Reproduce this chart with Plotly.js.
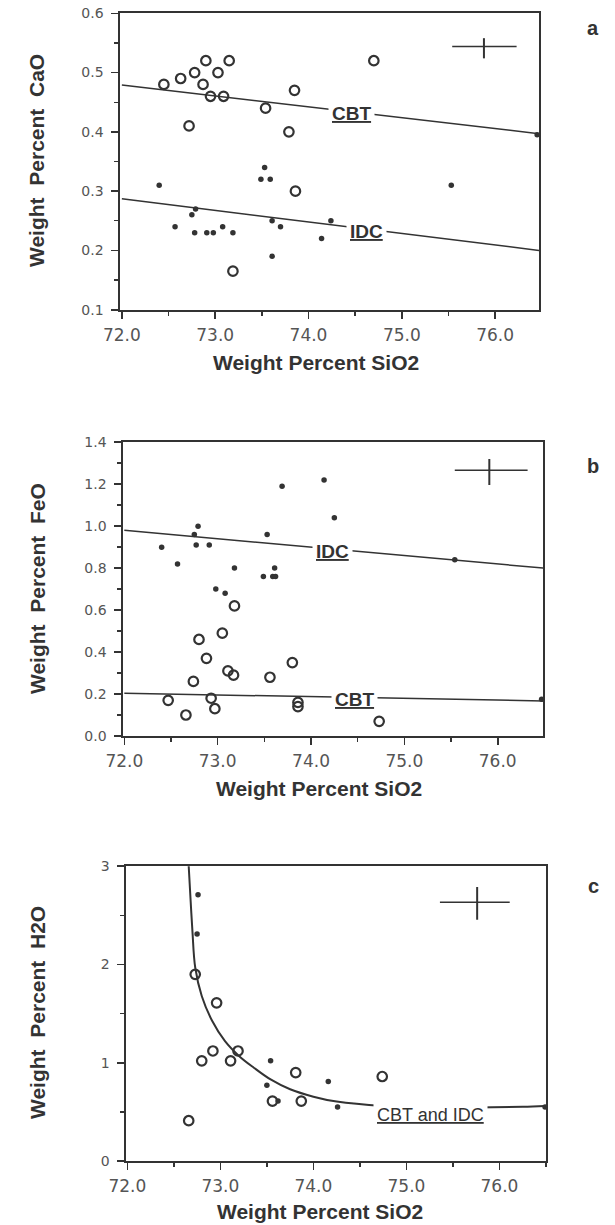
<!DOCTYPE html>
<html>
<head>
<meta charset="utf-8">
<script src="https://cdn.plot.ly/plotly-3.0.1.min.js"></script>
<style>html,body{margin:0;padding:0;background:#fff;}#chart{width:615px;height:1225px;}</style>
</head>
<body>
<div id="chart"></div>
<script>
// ---------- Data ----------
// Panel a: CaO vs SiO2
const caoCbtX = [72.45,72.63,72.78,72.87,72.90,73.03,73.15,72.95,73.09,72.72,73.54,73.85,73.79,73.86,74.70,73.19];
const caoCbtY = [0.48,0.49,0.50,0.48,0.52,0.50,0.52,0.46,0.46,0.41,0.44,0.47,0.40,0.30,0.52,0.165];
const caoIdcX = [72.40,72.57,72.75,72.79,72.78,72.91,72.98,73.08,73.19,73.53,73.49,73.59,73.61,73.70,73.61,74.24,74.14,75.53,76.45];
const caoIdcY = [0.31,0.24,0.26,0.27,0.23,0.23,0.23,0.24,0.23,0.34,0.32,0.32,0.25,0.24,0.19,0.25,0.22,0.31,0.395];
const caoCbtLineX = [72.0, 76.47];
const caoCbtLineY = [0.479, 0.397];
const caoIdcLineX = [72.0, 76.47];
const caoIdcLineY = [0.287, 0.200];
const caoErrH = {x:[75.54,76.23], y:[0.544,0.544]};
const caoErrV = {x:[75.88,75.88], y:[0.524,0.558]};

// Panel b: FeO vs SiO2
const feoIdcX = [72.40,72.57,72.75,72.79,72.77,72.91,72.98,73.08,73.18,73.49,73.53,73.61,73.59,73.62,73.69,74.14,74.25,75.54,76.47];
const feoIdcY = [0.90,0.82,0.96,1.00,0.91,0.91,0.70,0.68,0.80,0.76,0.96,0.80,0.76,0.76,1.19,1.22,1.04,0.84,0.175];
const feoCbtX = [73.18,73.05,72.80,72.88,72.74,73.11,73.17,73.56,73.80,72.47,72.66,72.93,72.97,73.86,73.86,74.73];
const feoCbtY = [0.62,0.49,0.46,0.37,0.26,0.31,0.29,0.28,0.35,0.17,0.10,0.18,0.13,0.16,0.14,0.07];
const feoIdcLineX = [72.0, 76.49];
const feoIdcLineY = [0.98, 0.80];
const feoCbtLineX = [72.0, 76.49];
const feoCbtLineY = [0.204, 0.167];
const feoErrH = {x:[75.54,76.32], y:[1.266,1.266]};
const feoErrV = {x:[75.91,75.91], y:[1.196,1.320]};

// Panel c: H2O vs SiO2
const h2oIdcX = [72.76,72.75,73.54,73.50,73.62,74.16,74.26,76.49];
const h2oIdcY = [2.71,2.31,1.02,0.77,0.61,0.81,0.55,0.55];
const h2oCbtX = [72.66,72.73,72.96,72.80,72.92,73.11,73.19,73.56,73.81,73.87,74.74];
const h2oCbtY = [0.41,1.90,1.61,1.02,1.12,1.02,1.12,0.61,0.90,0.61,0.86];
const h2oCurveX = [72.66,72.68,72.70,72.73,72.80,72.91,73.05,73.20,73.36,73.54,73.75,74.00,74.25,74.75,75.25,75.75,76.25,76.49];
const h2oCurveY = [3.00,2.66,2.34,1.97,1.68,1.43,1.22,1.07,0.95,0.83,0.73,0.655,0.605,0.56,0.545,0.545,0.552,0.56];
const h2oErrH = {x:[75.36,76.11], y:[2.633,2.633]};
const h2oErrV = {x:[75.76,75.76], y:[2.456,2.789]};

// ---------- Helpers ----------
const W = 615, H = 1225;
const ink = '#333333';
const px = v => v / W;
const py = v => 1 - v / H;

function openPts(x, y, xa, ya) {
  return {x, y, xaxis: xa, yaxis: ya, type: 'scatter', mode: 'markers', cliponaxis: false,
    marker: {symbol: 'circle-open', size: 9.5, color: ink, line: {width: 2.2, color: ink}}, hoverinfo: 'x+y'};
}
function dotPts(x, y, xa, ya) {
  return {x, y, xaxis: xa, yaxis: ya, type: 'scatter', mode: 'markers', cliponaxis: false,
    marker: {symbol: 'circle', size: 5.5, color: ink}, hoverinfo: 'x+y'};
}
function line(x, y, xa, ya, w, shape) {
  return {x, y, xaxis: xa, yaxis: ya, type: 'scatter', mode: 'lines',
    line: {color: ink, width: w || 1.5, shape: shape || 'linear', smoothing: 1}, hoverinfo: 'skip'};
}

function xAxis(l, r, range, anchor) {
  return {domain: [px(l), px(r)], range, anchor, showline: true, linecolor: ink, linewidth: 1.6,
    mirror: true, ticks: 'outside', ticklen: 7, tickwidth: 1.6, tickcolor: ink,
    tick0: 72, dtick: 1, tickformat: '.1f', showgrid: false, zeroline: false,
    tickfont: {family: 'DejaVu Sans', size: 17, color: '#555'}, ticklabelstandoff: 2, fixedrange: true};
}
function yAxis(t, b, range, anchor, dtick, fmt) {
  return {domain: [py(b), py(t)], range, anchor, showline: true, linecolor: ink, linewidth: 1.6,
    mirror: true, ticks: 'outside', ticklen: 7, tickwidth: 1.6, tickcolor: ink,
    tick0: 0, dtick, tickformat: fmt, showgrid: false, zeroline: false,
    tickfont: {family: 'DejaVu Sans', size: 14, color: '#555'}, ticklabelstandoff: 5, fixedrange: true};
}
// overlay axes that carry only the small intermediate ticks
function xMinor(base, over, anchor) {
  return {domain: base.domain, range: base.range, anchor, overlaying: over, side: 'bottom',
    showline: false, ticks: 'outside', ticklen: 5, tickwidth: 1.4, tickcolor: ink,
    tick0: 72, dtick: 0.5, showticklabels: false, showgrid: false, zeroline: false, fixedrange: true};
}
function yMinor(base, over, anchor, dtick) {
  return {domain: base.domain, range: base.range, anchor, overlaying: over, side: 'left',
    showline: false, ticks: 'outside', ticklen: 5, tickwidth: 1.4, tickcolor: ink,
    tick0: 0, dtick, showticklabels: false, showgrid: false, zeroline: false, fixedrange: true};
}

const traces = [
  line(caoCbtLineX, caoCbtLineY, 'x', 'y'),
  line(caoIdcLineX, caoIdcLineY, 'x', 'y'),
  line(caoErrH.x, caoErrH.y, 'x', 'y', 1.5),
  line(caoErrV.x, caoErrV.y, 'x', 'y', 2),
  openPts(caoCbtX, caoCbtY, 'x', 'y'),
  dotPts(caoIdcX, caoIdcY, 'x', 'y'),

  line(feoIdcLineX, feoIdcLineY, 'x2', 'y2'),
  line(feoCbtLineX, feoCbtLineY, 'x2', 'y2'),
  line(feoErrH.x, feoErrH.y, 'x2', 'y2', 1.5),
  line(feoErrV.x, feoErrV.y, 'x2', 'y2', 2),
  openPts(feoCbtX, feoCbtY, 'x2', 'y2'),
  dotPts(feoIdcX, feoIdcY, 'x2', 'y2'),

  line(h2oCurveX, h2oCurveY, 'x3', 'y3', 2, 'spline'),
  line(h2oErrH.x, h2oErrH.y, 'x3', 'y3', 1.5),
  line(h2oErrV.x, h2oErrV.y, 'x3', 'y3', 2),
  openPts(h2oCbtX, h2oCbtY, 'x3', 'y3'),
  dotPts(h2oIdcX, h2oIdcY, 'x3', 'y3'),

  // empty traces so the minor-tick overlay axes are drawn
  {x: [], y: [], xaxis: 'x4', yaxis: 'y4', type: 'scatter', mode: 'markers', hoverinfo: 'skip'},
  {x: [], y: [], xaxis: 'x5', yaxis: 'y5', type: 'scatter', mode: 'markers', hoverinfo: 'skip'},
  {x: [], y: [], xaxis: 'x6', yaxis: 'y6', type: 'scatter', mode: 'markers', hoverinfo: 'skip'}
];

const titleFont = {family: 'Liberation Sans, Arial, sans-serif', size: 21, color: ink, weight: 700};
function xTitle(text, cx, cy) {
  return {text, xref: 'paper', yref: 'paper', x: px(cx), y: py(cy), xanchor: 'center', yanchor: 'middle',
    showarrow: false, font: titleFont};
}
function yTitle(text, cx, cy) {
  return {text, xref: 'paper', yref: 'paper', x: px(cx), y: py(cy), xanchor: 'center', yanchor: 'middle',
    showarrow: false, textangle: -90, font: titleFont};
}
function letter(text, cx, cy) {
  return {text, xref: 'paper', yref: 'paper', x: px(cx), y: py(cy), xanchor: 'center', yanchor: 'middle',
    showarrow: false, font: {family: 'Liberation Sans, Arial, sans-serif', size: 20, color: ink, weight: 700}};
}
function label(text, x, y, xr, yr, bold, size) {
  return {text: '<u>' + text + '</u>', x, y, xref: xr, yref: yr, xanchor: 'center', yanchor: 'middle',
    showarrow: false, bgcolor: '#ffffff', borderpad: 3,
    font: {family: 'Liberation Sans, Arial, sans-serif', size: size, color: ink, weight: bold ? 700 : 400}};
}

const xa1 = xAxis(120, 539, [71.98, 76.47], 'y');
const ya1 = yAxis(13, 310, [0.0995, 0.6005], 'x', 0.1, '.1f');
const xa2 = xAxis(123, 543, [71.986, 76.485], 'y2');
const ya2 = yAxis(442, 736, [0, 1.401], 'x2', 0.2, '.1f');
const xa3 = xAxis(126, 546, [71.986, 76.5], 'y3');
const ya3 = yAxis(866, 1161, [0, 3.003], 'x3', 1, 'd');

const layout = {
  width: W, height: H, margin: {l: 0, r: 0, t: 0, b: 0},
  paper_bgcolor: '#ffffff', plot_bgcolor: '#ffffff', showlegend: false,
  xaxis: xa1, yaxis: ya1, xaxis2: xa2, yaxis2: ya2, xaxis3: xa3, yaxis3: ya3,
  xaxis4: xMinor(xa1, 'x', 'y4'), yaxis4: yMinor(ya1, 'y', 'x4', 0.05),
  xaxis5: xMinor(xa2, 'x2', 'y5'), yaxis5: yMinor(ya2, 'y2', 'x5', 0.1),
  xaxis6: xMinor(xa3, 'x3', 'y6'), yaxis6: yMinor(ya3, 'y3', 'x6', 0.5),
  annotations: [
    label('CBT', 74.46, 0.431, 'x', 'y', true, 19),
    label('IDC', 74.62, 0.232, 'x', 'y', true, 19),
    label('IDC', 74.23, 0.877, 'x2', 'y2', true, 19),
    label('CBT', 74.47, 0.172, 'x2', 'y2', true, 19),
    label('CBT and IDC', 75.26, 0.47, 'x3', 'y3', false, 18),
    xTitle('Weight Percent SiO2', 316, 362),
    xTitle('Weight Percent SiO2', 319, 788),
    xTitle('Weight Percent SiO2', 320, 1211),
    yTitle('Weight  Percent  CaO', 36, 161),
    yTitle('Weight  Percent  FeO', 37, 589),
    yTitle('Weight  Percent  H2O', 37, 1013),
    letter('a', 593, 28),
    letter('b', 593, 466),
    letter('c', 593, 886)
  ]
};

Plotly.newPlot('chart', traces, layout, {displayModeBar: false, staticPlot: true});
</script>
</body>
</html>
